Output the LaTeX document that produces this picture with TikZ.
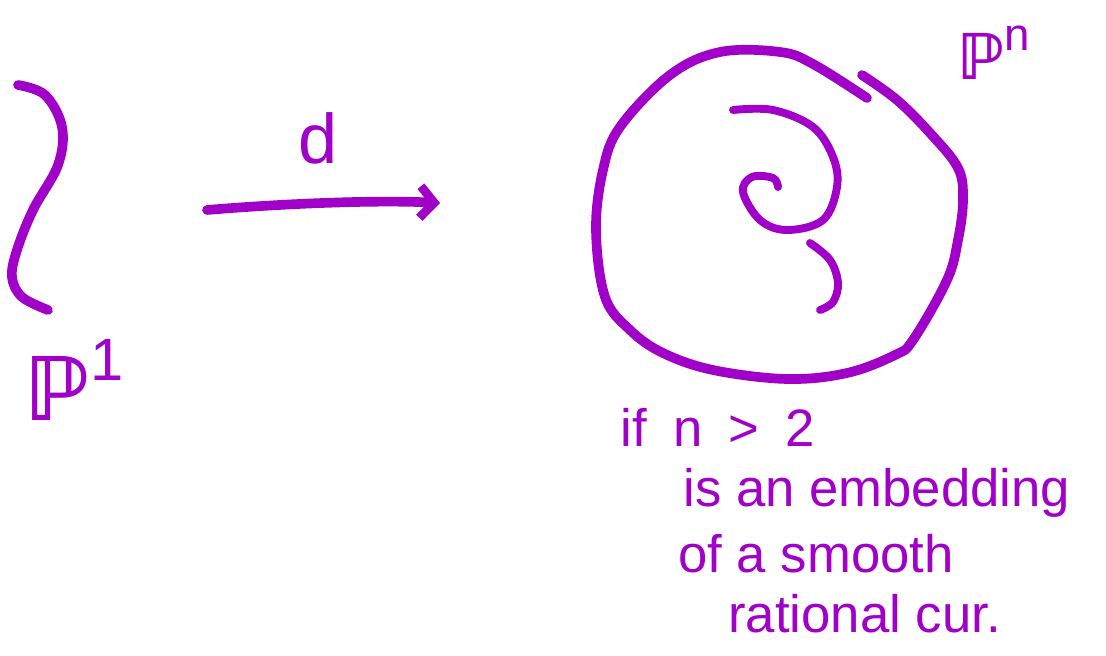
\documentclass[tikz,border=0pt]{standalone}
\usepackage{amssymb}
\usepackage{fontspec}
\setmainfont{Liberation Sans}
\newfontfamily\dsfont{DejaVu Sans}
\usetikzlibrary{arrows.meta}
\definecolor{ink}{RGB}{160,0,200}

\begin{document}
\begin{tikzpicture}[x=0.02cm,y=-0.02cm,
    pen/.style={ink,line width=5.5pt,line cap=round,line join=round},
    thinpen/.style={pen,line width=4.5pt},
    lbl/.style={ink,inner sep=0pt},
    note/.style={lbl,anchor=base west,font=\fontsize{30}{32}\selectfont}]
\useasboundingbox (0,0) rectangle (1106,656);
% the line P^1
\draw[pen] plot[smooth,tension=0.6] coordinates {(18,85) (45,95) (62,127) (58,165) (33,210) (17,250) (12,277) (22,297) (48,310)};
\node[lbl,anchor=base west,font=\fontsize{50}{50}\selectfont] (pone) at (24,420) {{\dsfont\bfseries ℙ}\raisebox{0.45em}{\fontsize{34}{34}\selectfont 1}};
% the map of degree d
\coordinate (src) at (207,210);
\coordinate (dst) at (440,203);
\draw[pen,-{Straight Barb[length=8pt,width=18pt,line width=5pt]}] (src) .. controls (290,203) and (380,200) .. (dst);
\node[lbl,font=\fontsize{40}{40}\selectfont] (deg) at (318,138) {d};
% the space P^n
\draw[pen] plot[smooth,tension=0.6] coordinates {(862,75) (897,100) (930,133) (958,168) (963,200) (958,240) (947,280) (913,340) (895,355) (847,373) (787,379) (713,370) (663,353) (630,330) (605,297) (596,230) (603,170) (620,127) (670,75) (720,52) (780,52) (813,64) (867,98)};
\node[lbl,anchor=base west,font=\fontsize{36}{36}\selectfont] (pn) at (957,79) {{\dsfont\bfseries ℙ}\raisebox{0.45em}{\fontsize{26}{26}\selectfont n}};
% the rational curve inside
\draw[thinpen] plot[smooth,tension=0.6] coordinates {(733,110) (773,110) (813,127) (833,157) (837,187) (823,220) (787,230) (760,220) (743,192) (752,177) (773,178) (778,187)};
\draw[thinpen] plot[smooth,tension=0.6] coordinates {(810,243) (830,260) (838,283) (833,302) (820,310)};
% the remark
\node[note] (ln1) at (620,446) {if\enspace n\enspace>\enspace2};
\node[note] (ln2) at (683,506) {is an embedding};
\node[note] (ln3) at (678,572) {of a smooth};
\node[note] (ln4) at (728,632) {rational cur.};
\end{tikzpicture}
\end{document}
